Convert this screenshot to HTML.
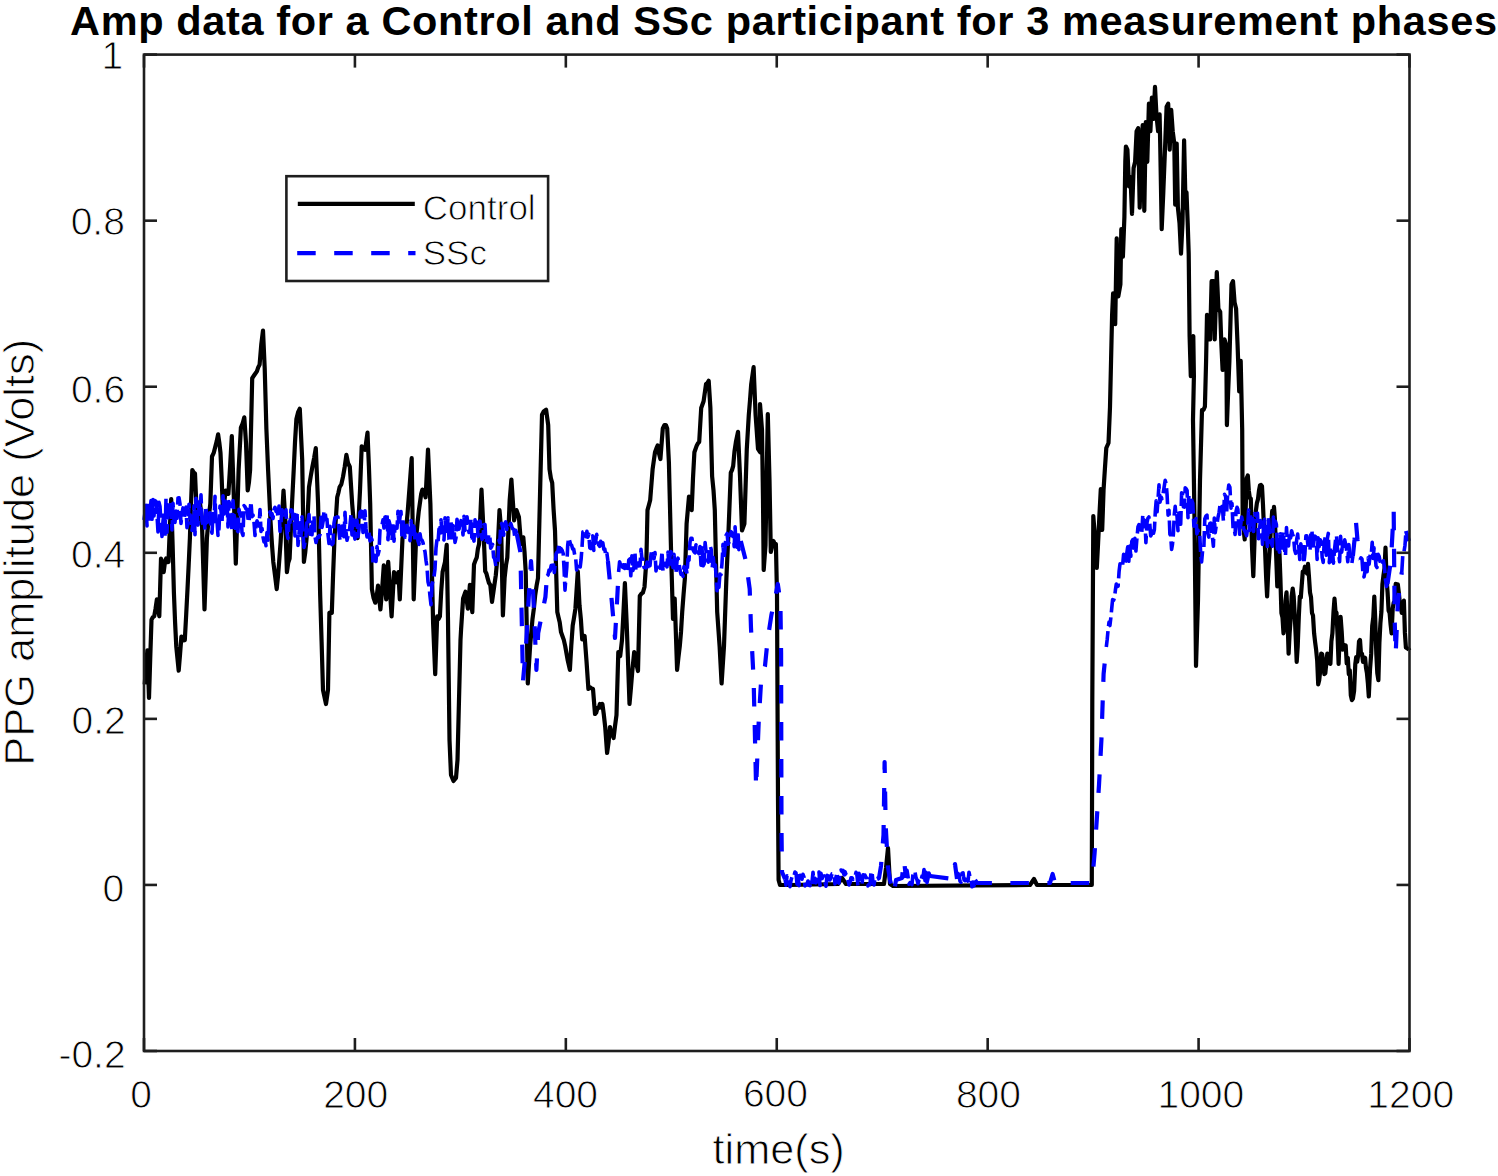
<!DOCTYPE html>
<html><head><meta charset="utf-8"><style>
html,body{margin:0;padding:0;background:#fff;}
svg{display:block;}
text{font-family:"Liberation Sans",sans-serif;fill:#000;}
.thin{stroke:#fff;stroke-width:0.9px;}
</style></head><body>
<svg width="1498" height="1176" viewBox="0 0 1498 1176">
<rect width="1498" height="1176" fill="#fff"/>
<text x="783.85" y="34.75" text-anchor="middle" font-size="41.50" font-weight="bold" letter-spacing="0.620">Amp data for a Control and SSc participant for 3 measurement phases</text>
<g fill="none" stroke="#000" stroke-width="4.2" stroke-linejoin="round">
<path d="M144.7,684.4 L146.1,665.8 L147.4,650.3 L149.0,698.0 L150.2,659.1 L151.5,619.7 L152.8,617.2 L154.2,616.3 L155.6,608.4 L156.9,599.3 L158.1,608.6 L159.3,616.3 L161.0,558.5 L162.3,562.7 L163.7,572.1 L164.9,562.4 L166.1,558.5 L167.3,562.2 L168.5,561.9 L169.8,529.0 L171.2,499.0 L172.6,544.2 L173.9,592.5 L175.1,622.7 L176.3,646.9 L178.7,670.7 L180.1,653.5 L181.4,636.7 L183.1,640.4 L184.8,640.1 L186.2,614.5 L187.5,589.1 L188.7,564.4 L189.9,538.1 L191.1,502.0 L192.3,470.1 L193.7,472.6 L195.0,473.5 L196.2,501.2 L197.4,524.5 L198.8,514.4 L200.1,504.1 L201.8,517.7 L203.2,565.0 L204.5,609.5 L205.7,574.8 L206.9,538.1 L208.6,518.5 L210.3,504.1 L212.0,456.5 L213.7,452.9 L215.4,446.3 L216.8,440.9 L218.1,434.4 L219.3,442.6 L220.5,453.1 L221.7,479.2 L222.9,510.9 L224.2,502.9 L225.6,490.5 L227.0,492.0 L228.4,493.9 L230.1,466.3 L231.8,436.1 L233.5,487.1 L235.8,563.6 L237.2,519.1 L238.6,470.1 L240.9,427.6 L242.6,423.7 L244.3,417.3 L246.0,442.9 L247.7,490.5 L248.9,482.8 L250.1,470.1 L252.2,378.2 L254.5,374.8 L256.9,371.4 L258.2,367.4 L259.6,364.6 L261.3,344.2 L263.0,330.6 L264.7,368.0 L266.4,429.3 L268.1,470.1 L270.5,521.1 L271.9,543.3 L273.3,561.9 L275.0,575.2 L276.7,589.1 L278.0,576.4 L279.4,558.5 L280.6,542.1 L281.8,521.1 L283.5,490.5 L285.2,517.7 L286.9,572.1 L288.2,562.9 L289.6,558.5 L292.0,504.1 L293.7,470.1 L295.0,442.4 L296.4,419.0 L298.1,412.2 L299.8,408.8 L302.2,459.9 L303.9,561.9 L305.2,552.8 L306.6,538.1 L309.0,487.1 L310.7,476.5 L312.4,466.7 L314.1,458.1 L315.8,448.0 L318.1,504.1 L320.2,595.9 L321.6,641.8 L323.0,690.0 L324.5,697.0 L326.0,704.0 L328.0,690.0 L329.4,612.9 L330.6,612.2 L331.8,612.9 L333.1,574.6 L334.5,538.1 L335.9,518.2 L337.2,497.3 L338.4,492.7 L339.6,487.1 L341.3,484.4 L343.0,476.9 L344.7,466.9 L346.4,454.8 L348.1,463.3 L349.8,466.7 L352.2,504.1 L353.5,519.8 L354.9,531.3 L356.2,537.6 L357.6,538.1 L360.0,490.5 L361.7,446.3 L363.4,449.0 L365.1,449.7 L367.5,432.7 L368.9,466.4 L370.2,504.1 L371.9,589.1 L373.6,598.1 L375.3,602.7 L376.6,597.0 L378.0,585.7 L380.4,609.5 L382.1,589.8 L383.8,565.3 L386.2,599.3 L388.2,561.9 L389.9,589.5 L391.6,616.3 L394.0,572.1 L396.4,582.3 L398.4,572.1 L399.8,599.3 L401.1,570.0 L402.5,538.1 L404.2,533.0 L405.9,531.3 L407.6,512.9 L409.3,490.5 L411.7,458.2 L413.7,599.3 L414.9,569.1 L416.1,538.1 L417.5,523.2 L418.8,510.9 L421.2,493.9 L422.4,489.6 L423.6,490.5 L425.6,497.3 L428.0,449.7 L430.4,504.1 L431.8,565.7 L433.1,623.1 L435.2,674.1 L437.2,616.3 L438.5,619.2 L439.9,616.3 L441.2,591.7 L442.6,572.1 L445.0,561.9 L446.7,544.9 L448.0,620.0 L449.5,740.0 L451.0,775.0 L453.5,781.0 L456.0,778.0 L457.5,760.0 L459.0,700.0 L460.5,640.0 L461.1,629.1 L463.1,598.5 L465.5,591.7 L467.9,608.7 L469.9,584.9 L471.1,600.3 L472.3,612.1 L474.0,564.5 L475.4,560.6 L476.7,557.7 L477.9,548.8 L479.1,544.1 L481.5,489.7 L483.5,530.5 L485.2,571.3 L486.4,573.5 L487.6,578.1 L489.0,583.1 L490.3,584.9 L492.0,601.9 L494.4,584.9 L495.8,575.2 L497.1,561.1 L499.5,510.1 L501.2,530.5 L502.9,615.5 L504.6,578.1 L506.0,565.2 L507.3,557.7 L509.7,499.9 L511.4,479.5 L512.8,500.6 L514.1,520.3 L516.5,510.1 L518.9,516.9 L521.0,544.1 L523.3,537.3 L524.5,551.6 L525.7,571.3 L527.8,683.5 L530.1,646.1 L532.5,618.9 L533.9,608.3 L535.2,595.1 L536.6,585.6 L538.0,578.1 L540.3,482.9 L542.0,414.8 L543.7,411.4 L546.1,409.7 L548.2,425.0 L549.5,469.3 L550.9,478.4 L552.2,482.9 L553.6,509.6 L555.0,530.5 L557.3,612.1 L558.5,617.2 L559.7,622.3 L561.0,632.1 L562.4,635.9 L563.8,639.9 L565.2,646.1 L567.6,659.7 L569.9,669.9 L571.3,645.3 L572.7,625.7 L574.0,617.8 L575.4,608.7 L577.8,571.3 L579.5,605.3 L580.9,619.5 L582.2,639.3 L584.6,635.9 L586.5,661.0 L588.4,689.0 L589.9,687.2 L591.5,688.4 L593.0,689.0 L595.0,714.0 L596.2,712.7 L597.5,707.9 L598.7,708.0 L599.9,703.9 L601.2,707.5 L602.4,704.0 L603.8,714.4 L605.2,727.0 L607.1,753.0 L608.5,742.8 L610.0,727.0 L611.2,733.0 L612.4,733.6 L613.6,738.0 L615.0,726.3 L616.5,715.0 L618.3,652.0 L620.2,656.0 L622.0,640.0 L623.5,611.6 L624.9,583.0 L626.7,624.0 L627.7,652.0 L629.5,704.0 L630.9,688.4 L632.3,671.0 L634.2,652.0 L635.5,658.9 L636.7,665.0 L638.0,671.0 L639.8,596.0 L641.4,593.7 L642.9,592.6 L644.5,587.0 L646.4,560.0 L647.5,510.1 L648.9,505.0 L650.2,499.9 L652.6,469.3 L655.0,452.2 L656.4,448.4 L657.7,445.4 L659.0,453.5 L660.4,459.0 L662.8,428.4 L664.5,425.0 L665.9,425.1 L667.2,428.4 L668.9,462.4 L671.3,561.1 L673.0,618.9 L674.7,598.5 L677.1,669.9 L678.5,656.8 L679.8,646.1 L681.0,632.0 L682.2,612.1 L683.5,595.2 L684.9,578.1 L686.6,523.7 L689.0,496.5 L690.4,503.6 L691.7,510.1 L693.0,478.2 L694.4,452.2 L696.8,445.4 L698.0,443.2 L699.2,442.0 L701.2,408.0 L703.6,401.2 L706.0,384.2 L707.4,383.0 L708.7,380.8 L710.4,408.0 L712.1,476.1 L713.5,490.2 L714.8,510.1 L716.0,561.8 L717.2,612.1 L719.6,646.1 L721.6,683.5 L724.0,646.1 L726.4,578.1 L728.4,533.9 L730.8,472.7 L732.0,470.1 L733.2,465.9 L734.5,451.3 L735.9,442.0 L738.0,431.8 L740.0,476.1 L742.0,530.5 L744.4,523.7 L746.8,448.8 L748.8,414.8 L750.0,400.3 L751.2,384.2 L753.6,367.2 L755.6,414.8 L758.0,448.8 L760.1,452.2 L760.0,404.0 L762.0,430.0 L763.0,500.0 L763.7,570.0 L765.5,545.0 L767.8,414.0 L769.5,480.0 L770.8,552.0 L772.1,546.3 L773.4,541.0 L774.6,543.6 L775.9,544.0 L777.0,595.0 L777.5,700.0 L778.0,800.0 L778.6,880.0 L780.0,885.0 L790.0,885.0 L838.0,884.0 L842.0,878.0 L846.0,884.0 L884.0,884.0 L886.0,868.0 L888.0,848.0 L890.0,884.0 L893.0,886.0 L1030.0,885.0 L1034.0,879.0 L1037.0,885.0 L1091.8,885.0 L1092.3,700.0 L1093.3,516.0 L1095.4,543.0 L1096.8,568.0 L1098.1,543.0 L1099.4,515.7 L1100.8,489.0 L1102.2,530.0 L1103.6,489.0 L1104.9,468.9 L1106.3,448.0 L1108.5,443.0 L1110.0,407.0 L1112.1,314.9 L1113.1,293.4 L1115.2,324.1 L1116.7,238.4 L1118.3,296.5 L1120.4,284.3 L1121.3,229.2 L1122.9,256.7 L1124.4,216.9 L1125.3,161.8 L1125.9,146.5 L1127.4,149.6 L1129.0,186.3 L1130.5,177.1 L1132.0,213.9 L1133.6,167.9 L1135.1,161.8 L1136.6,131.2 L1138.2,128.2 L1139.7,207.7 L1141.2,155.7 L1142.7,125.1 L1144.3,210.8 L1145.8,122.0 L1147.3,161.8 L1148.9,103.7 L1150.4,131.2 L1151.9,97.5 L1153.5,119.0 L1155.0,86.8 L1156.5,115.9 L1158.1,131.2 L1159.6,114.4 L1160.2,143.5 L1161.7,229.2 L1163.3,192.4 L1165.1,146.5 L1166.6,106.7 L1168.2,103.7 L1169.7,149.6 L1171.2,109.8 L1172.7,131.2 L1174.3,143.5 L1175.2,204.7 L1176.7,143.5 L1177.9,207.7 L1179.5,223.0 L1181.0,253.7 L1182.5,223.0 L1184.1,140.4 L1185.6,207.7 L1186.5,192.4 L1187.7,223.0 L1188.7,253.7 L1189.6,336.3 L1190.8,376.1 L1192.0,339.4 L1193.3,336.3 L1193.9,376.1 L1193.0,420.0 L1194.5,520.0 L1196.0,666.0 L1198.0,600.0 L1200.0,480.0 L1202.0,410.0 L1203.5,409.8 L1204.9,406.7 L1206.1,360.8 L1207.0,314.9 L1208.6,317.9 L1210.1,339.4 L1211.6,281.2 L1213.8,281.2 L1214.7,339.4 L1216.8,272.0 L1218.4,308.8 L1220.2,311.8 L1221.4,345.5 L1222.6,370.0 L1224.5,339.4 L1226.3,345.5 L1226.9,425.1 L1228.2,390.1 L1229.4,360.8 L1231.5,284.3 L1233.0,281.2 L1234.6,302.6 L1236.1,308.8 L1237.6,345.5 L1239.2,391.4 L1240.7,360.8 L1242.2,430.0 L1242.7,521.0 L1244.7,539.4 L1246.7,478.2 L1247.8,475.5 L1248.8,490.4 L1249.8,498.0 L1250.8,498.6 L1252.0,546.6 L1253.3,576.1 L1254.6,538.5 L1255.9,510.8 L1256.9,503.1 L1258.0,499.1 L1259.0,490.4 L1260.0,485.4 L1261.0,484.9 L1262.0,486.3 L1263.0,505.0 L1264.1,531.2 L1265.1,550.3 L1266.1,576.6 L1267.1,596.5 L1268.3,570.1 L1269.6,551.6 L1270.9,528.7 L1272.2,510.8 L1273.1,519.0 L1274.0,506.8 L1274.9,519.0 L1276.1,554.0 L1277.3,586.3 L1278.3,573.7 L1279.4,551.6 L1280.4,578.5 L1281.4,612.9 L1282.5,617.6 L1283.5,633.3 L1284.5,625.7 L1285.5,600.8 L1286.5,592.4 L1287.5,616.8 L1288.6,653.7 L1289.6,633.3 L1290.6,619.5 L1291.6,596.5 L1292.7,588.5 L1293.7,596.5 L1294.7,614.7 L1295.7,636.7 L1296.7,661.8 L1297.7,646.7 L1298.8,617.0 L1299.8,596.5 L1300.8,597.5 L1301.8,584.3 L1302.8,571.5 L1303.9,572.0 L1304.9,566.7 L1306.0,571.0 L1307.0,573.6 L1308.0,563.9 L1309.0,577.2 L1310.0,592.4 L1311.0,597.2 L1312.0,612.9 L1313.0,615.5 L1314.1,633.3 L1315.1,642.0 L1316.1,649.6 L1317.2,660.8 L1318.2,684.3 L1319.2,680.2 L1320.2,670.7 L1321.2,653.7 L1322.2,654.2 L1323.3,662.9 L1324.3,674.1 L1325.3,673.4 L1326.3,663.3 L1327.3,653.7 L1328.3,663.2 L1329.4,657.4 L1330.4,663.9 L1331.4,641.2 L1332.4,633.3 L1333.5,611.8 L1334.5,598.6 L1335.5,611.6 L1336.5,612.9 L1337.5,633.8 L1338.6,663.9 L1339.6,637.3 L1340.6,616.9 L1341.7,631.6 L1342.7,649.6 L1343.7,646.6 L1344.7,645.1 L1345.7,645.5 L1346.7,663.4 L1347.8,657.7 L1348.8,674.1 L1349.8,670.3 L1350.8,695.2 L1351.9,700.1 L1352.9,698.6 L1354.1,691.0 L1355.3,663.9 L1356.2,657.0 L1357.2,661.7 L1358.1,655.6 L1359.0,641.4 L1360.0,639.9 L1361.0,654.5 L1362.0,653.7 L1363.0,661.8 L1364.1,659.7 L1365.1,657.8 L1366.0,667.9 L1366.9,672.9 L1367.9,683.6 L1368.8,696.5 L1370.0,669.6 L1371.2,653.7 L1372.2,626.0 L1373.3,617.3 L1374.3,596.5 L1375.3,620.8 L1376.3,653.7 L1377.3,673.2 L1378.4,680.2 L1379.4,642.6 L1380.4,623.1 L1381.4,611.8 L1382.4,584.3 L1383.4,575.9 L1384.5,568.3 L1385.5,547.6 L1386.5,577.9 L1387.6,592.4 L1388.6,610.6 L1389.6,612.9 L1390.6,624.6 L1391.6,633.3 L1392.7,608.3 L1393.7,602.7 L1394.7,601.5 L1395.7,583.9 L1396.7,584.3 L1397.8,584.3 L1398.8,592.4 L1399.8,602.5 L1400.8,606.6 L1401.8,612.9 L1402.8,605.0 L1403.9,600.6 L1404.9,632.9 L1405.9,647.6 L1409.0,649.6 L1409.0,650.0"/>
</g>
<g fill="none" stroke="#0000ff" stroke-width="4.2" stroke-dasharray="18.5,18.5" stroke-linejoin="round">
<path d="M516.8,534.0 L520.4,552.0 L521.3,597.0 L522.0,633.0 L523.0,681.0 L525.7,651.0 L529.3,588.0 L531.0,561.0 L532.9,588.0 L534.6,624.0 L536.4,670.0 L538.2,633.0 L541.8,615.0 L545.4,597.0 L547.0,576.0"/><path d="M607.9,561.0 L611.4,597.0 L615.0,638.0 L616.8,606.0 L618.6,572.0"/><path d="M740.8,541.0 L745.9,561.0 L749.7,589.0 L751.0,628.0 L753.6,679.0 L754.8,730.0 L756.1,788.0 L757.4,755.0 L758.7,722.0 L761.2,679.0 L765.0,666.0 L767.6,640.0 L771.4,615.0 L775.3,597.0 L777.8,584.0 L780.4,602.0 L781.1,653.0 L781.3,750.0 L781.5,830.0 L782.0,872.0 L785.0,879.0"/><path d="M877.0,879.0 L879.0,878.0 L881.0,866.0 L883.5,835.0 L884.6,762.0 L885.7,826.0 L888.0,867.0 L890.0,880.0 L893.7,894.0 L896.0,880.0 L902.0,878.0 L904.0,860.0 L906.0,878.0"/><path d="M930.0,876.0 L953.0,879.0 L955.0,864.0 L957.0,879.0"/><path d="M975.0,880.0 L977.0,883.0 L1050.0,883.0 L1052.6,874.0 L1055.0,883.0 L1091.0,883.0 L1092.3,880.0 L1094.6,853.0 L1096.8,819.0 L1099.0,785.0 L1101.4,740.0 L1103.6,674.0 L1106.3,647.0"/><path d="M1352.9,556.0 L1354.5,540.0 L1355.9,521.0 L1357.5,540.0 L1360.0,560.0"/><path d="M1387.5,584.0 L1391.0,560.0 L1393.7,511.0 L1394.7,621.0 L1395.7,654.0 L1397.8,603.0 L1401.8,572.0"/><path d="M1406.0,531.0 L1409.0,541.0"/>
</g>
<g fill="none" stroke="#0000ff" stroke-width="3.6" stroke-linejoin="round" stroke-dasharray="16,5">
<path d="M144.0,520.0 L145.0,512.5 L146.0,505.2 L147.0,525.9 L148.0,501.6 L149.0,520.9 L150.0,513.6 L151.0,500.6 L152.0,519.3 L153.0,499.5 L154.0,516.0 L155.0,500.6 L156.0,501.4 L157.0,515.2 L158.0,531.9 L159.0,502.4 L160.0,506.4 L161.0,523.2 L162.0,536.5 L163.0,520.9 L164.0,513.3 L165.0,537.4 L166.0,498.4 L167.0,532.3 L168.0,508.4 L169.0,502.2 L170.0,501.0 L171.0,508.9 L172.0,530.0 L173.0,503.4 L174.0,520.0 L175.0,522.3 L176.0,511.1 L177.0,518.3 L178.0,497.9 L179.0,497.7 L180.0,503.7 L181.0,523.4 L182.0,512.8 L183.0,507.9 L184.0,519.2 L185.0,513.5 L186.0,507.0 L187.0,527.6 L188.0,523.5 L189.0,504.4 L190.0,518.1 L191.0,516.0 L192.0,530.5 L193.0,524.3 L194.0,505.7 L195.0,534.6 L196.0,498.4 L197.0,510.9 L198.0,524.9 L199.0,499.6 L200.0,513.5 L201.0,494.8 L202.0,521.1 L203.0,525.2 L204.0,517.3 L205.0,529.9 L206.0,506.5 L207.0,522.5 L208.0,518.3 L209.0,517.8 L210.0,512.7 L211.0,528.8 L212.0,533.2 L213.0,513.6 L214.0,521.6 L215.0,496.4 L216.0,523.2 L217.0,521.0 L218.0,535.5 L219.0,528.4 L220.0,506.0 L221.0,510.4 L222.0,522.3 L223.0,495.8 L224.0,514.0 L225.0,502.2 L226.0,500.3 L227.0,498.2 L228.0,527.0 L229.0,501.5 L230.0,506.4 L231.0,512.3 L232.0,531.5 L233.0,500.5 L234.0,515.1 L235.0,519.2 L236.0,532.3 L237.0,529.9 L238.0,531.7 L239.0,509.4 L240.0,514.8 L241.0,512.8 L242.0,532.7 L243.0,535.4 L244.0,505.6 L245.0,506.7 L246.0,508.9 L247.0,509.2 L248.0,518.5 L249.0,522.3 L250.0,510.8 L251.0,501.8 L252.0,516.7 L253.0,515.1 L254.0,522.1 L255.0,535.5 L256.0,526.5 L257.0,520.8 L258.0,524.2 L259.0,526.0 L260.0,509.5 L261.0,531.5 L262.0,528.4 L263.0,537.0 L264.0,541.8 L265.0,539.0 L266.0,545.7 L267.0,532.5 L268.0,540.1 L269.0,518.3 L270.0,511.8 L271.0,515.6 L272.0,513.7 L273.0,518.6 L274.0,509.4 L275.0,507.3 L276.0,511.4 L277.0,509.4 L278.0,516.9 L279.0,506.1 L280.0,531.4 L281.0,523.8 L282.0,509.8 L283.0,513.2 L284.0,516.5 L285.0,517.3 L286.0,509.9 L287.0,533.4 L288.0,538.4 L289.0,521.7 L290.0,522.6 L291.0,509.8 L292.0,510.5 L293.0,518.8 L294.0,516.4 L295.0,535.9 L296.0,513.4 L297.0,511.2 L298.0,545.4 L299.0,533.5 L300.0,522.9 L301.0,535.5 L302.0,516.8 L303.0,533.0 L304.0,547.4 L305.0,542.4 L306.0,535.7 L307.0,519.8 L308.0,522.4 L309.0,514.6 L310.0,534.3 L311.0,526.3 L312.0,534.8 L313.0,519.6 L314.0,516.1 L315.0,536.4 L316.0,542.5 L317.0,538.1 L318.0,536.7 L319.0,537.2 L320.0,534.7 L321.0,517.3 L322.0,527.4 L323.0,522.0 L324.0,511.0 L325.0,511.1 L326.0,519.9 L327.0,519.3 L328.0,534.3 L329.0,543.5 L330.0,526.2 L331.0,542.8 L332.0,544.5 L333.0,543.3 L334.0,523.0 L335.0,517.9 L336.0,518.1 L337.0,516.9 L338.0,517.1 L339.0,531.3 L340.0,540.7 L341.0,538.5 L342.0,526.1 L343.0,531.9 L344.0,536.8 L345.0,512.3 L346.0,531.9 L347.0,540.3 L348.0,535.9 L349.0,534.7 L350.0,525.2 L351.0,514.8 L352.0,534.9 L353.0,519.4 L354.0,534.2 L355.0,539.1 L356.0,520.5 L357.0,520.3 L358.0,536.6 L359.0,529.4 L360.0,512.5 L361.0,511.1 L362.0,511.6 L363.0,532.5 L364.0,529.2 L365.0,510.8 L366.0,528.7 L367.0,536.9 L368.0,533.6 L369.0,531.9 L370.0,540.9 L371.0,537.5 L372.0,539.8 L373.0,562.4 L374.0,560.8 L375.0,555.3 L376.0,561.4 L377.0,546.6 L378.0,554.9 L379.0,550.8 L380.0,529.9 L381.0,527.5 L382.0,525.1 L383.0,519.8 L384.0,528.0 L385.0,517.0 L386.0,522.6 L387.0,512.9 L388.0,539.8 L389.0,520.9 L390.0,524.7 L391.0,529.2 L392.0,540.3 L393.0,524.0 L394.0,541.2 L395.0,527.1 L396.0,528.3 L397.0,528.2 L398.0,511.2 L399.0,525.8 L400.0,517.2 L401.0,511.6 L402.0,538.8 L403.0,518.4 L404.0,528.7 L405.0,537.3 L406.0,532.2 L407.0,525.3 L408.0,531.8 L409.0,533.3 L410.0,540.6 L411.0,520.6 L412.0,534.3 L413.0,525.8 L414.0,527.1 L415.0,540.7 L416.0,534.0 L417.0,535.6 L418.0,540.7 L419.0,544.4 L420.0,533.7 L421.0,539.9 L422.0,540.1 L423.0,542.7 L424.0,547.9 L425.0,551.8 L426.0,560.5 L427.0,567.2 L428.0,581.7 L429.0,585.7 L430.0,596.1 L431.0,604.7 L432.0,585.0 L433.0,580.2 L434.0,576.7 L435.0,568.7 L436.0,548.0 L437.0,539.4 L438.0,542.6 L439.0,529.0 L440.0,528.9 L441.0,519.7 L442.0,533.2 L443.0,536.6 L444.0,540.0 L445.0,517.8 L446.0,534.6 L447.0,533.0 L448.0,517.8 L449.0,539.5 L450.0,541.9 L451.0,520.4 L452.0,541.4 L453.0,525.6 L454.0,528.2 L455.0,542.4 L456.0,537.9 L457.0,519.3 L458.0,526.9 L459.0,529.2 L460.0,524.5 L461.0,520.7 L462.0,524.1 L463.0,534.9 L464.0,516.4 L465.0,530.5 L466.0,527.6 L467.0,516.7 L468.0,524.9 L469.0,532.4 L470.0,529.6 L471.0,518.4 L472.0,541.5 L473.0,536.6 L474.0,541.1 L475.0,519.9 L476.0,523.9 L477.0,518.6 L478.0,536.4 L479.0,524.3 L480.0,521.1 L481.0,528.0 L482.0,539.4 L483.0,537.3 L484.0,524.5 L485.0,524.6 L485.9,543.0 L486.9,538.0 L487.8,542.5 L488.8,534.0 L489.8,536.1 L490.7,548.2 L491.7,546.6 L492.6,544.4 L493.6,557.0 L494.7,558.9 L495.9,566.1 L497.0,563.3 L497.9,562.2 L498.9,540.4 L499.8,542.7 L500.7,525.1 L501.7,523.5 L502.7,528.0 L503.7,535.3 L504.7,523.8 L505.7,521.9 L506.7,529.5 L507.7,525.0 L508.8,523.3 L509.8,524.8 L510.8,523.5 L511.8,526.6 L512.8,529.0 L513.8,529.4 L514.8,537.1 L515.8,530.3 L516.8,534.0"/><path d="M547.0,576.0 L548.0,575.0 L549.1,570.0 L550.1,571.0 L551.2,565.5 L552.2,567.5 L553.3,562.9 L554.3,572.5 L555.2,564.2 L556.1,553.9 L557.0,552.2 L557.9,552.0 L559.0,543.6 L560.0,551.8 L561.1,548.8 L562.1,550.2 L563.2,553.5 L564.1,569.7 L565.0,590.1 L565.9,577.5 L566.8,567.0 L567.7,545.2 L568.6,538.1 L569.6,540.7 L570.6,544.2 L571.6,545.3 L572.7,549.0 L573.7,549.1 L574.7,554.8 L575.7,558.5 L576.6,569.9 L577.5,563.8 L578.4,563.6 L579.3,563.7 L580.2,567.0 L581.1,559.3 L582.0,547.6 L582.9,531.9 L583.9,531.5 L584.9,533.0 L585.9,536.6 L586.9,531.3 L587.8,537.2 L588.8,534.2 L589.8,547.9 L590.8,548.5 L591.8,540.9 L592.8,535.9 L593.8,550.4 L594.8,538.7 L595.8,540.4 L596.7,534.4 L597.7,542.4 L598.7,545.0 L599.7,546.3 L600.7,541.3 L601.7,549.1 L602.8,542.7 L603.8,549.3 L604.8,549.0 L605.8,555.6 L606.9,553.3 L607.9,561.0"/><path d="M618.6,572.0 L619.6,561.7 L620.6,565.1 L621.6,561.8 L622.7,567.5 L623.7,564.8 L624.7,568.5 L625.7,564.9 L626.7,566.9 L627.8,571.5 L628.8,560.0 L629.8,559.0 L630.8,575.8 L631.9,555.8 L632.9,570.5 L633.9,567.5 L634.9,551.7 L635.9,570.3 L637.0,570.7 L638.0,563.1 L639.0,564.8 L640.0,565.7 L641.0,549.4 L642.0,559.2 L643.0,559.0 L644.0,567.4 L645.0,567.0 L646.0,567.8 L647.0,562.1 L648.0,570.0 L649.0,565.1 L650.0,565.6 L651.0,554.5 L652.0,549.8 L653.0,552.7 L654.0,558.6 L655.0,552.5 L656.0,570.9 L657.0,564.3 L658.0,566.3 L659.0,566.5 L660.0,568.2 L661.0,563.7 L662.0,551.6 L663.0,571.0 L664.0,569.6 L665.0,563.4 L666.0,564.0 L667.0,566.9 L668.0,552.0 L669.0,568.4 L670.0,556.3 L671.0,551.7 L672.0,556.3 L673.0,567.5 L674.0,554.4 L675.0,567.5 L676.0,573.1 L677.0,561.0 L678.0,558.1 L679.0,562.9 L680.0,570.2 L681.0,574.4 L682.0,573.3 L683.0,576.3 L684.0,566.5 L685.0,570.6 L686.0,567.9 L687.0,573.6 L688.0,559.0 L689.0,560.1 L690.0,542.2 L691.0,538.2 L692.0,538.3 L693.0,549.7 L694.0,551.7 L695.0,552.8 L696.0,544.8 L697.0,551.9 L698.0,552.1 L699.0,553.7 L700.0,546.6 L701.0,565.1 L702.0,547.8 L703.1,565.8 L704.1,564.1 L705.1,542.5 L706.1,552.1 L707.1,559.6 L708.2,562.1 L709.2,550.4 L710.2,546.2 L711.2,549.2 L712.2,567.6 L713.3,557.6 L714.3,568.5 L715.3,564.9 L716.2,577.4 L717.0,590.7 L717.9,582.7 L718.9,587.4 L719.9,574.0 L721.0,574.6 L722.0,563.3 L723.0,544.4 L724.0,559.5 L725.0,548.1 L726.1,535.4 L727.1,533.5 L728.1,544.3 L729.1,542.0 L730.1,537.0 L731.2,531.7 L732.2,535.4 L733.2,533.5 L734.2,546.6 L735.1,526.9 L736.0,545.0 L737.0,547.2 L738.0,531.4 L738.9,549.6 L739.8,545.2 L740.8,541.0"/><path d="M785.0,879.0 L786.0,885.1 L787.0,875.8 L788.0,877.1 L789.0,877.4 L790.0,886.6 L791.0,880.4 L792.0,876.9 L793.0,877.9 L794.0,875.6 L795.0,872.1 L796.0,872.9 L797.0,884.1 L798.0,875.7 L799.0,885.6 L800.0,875.2 L801.0,875.4 L802.0,879.2 L803.0,874.3 L804.0,877.1 L805.0,885.9 L806.0,884.8 L807.0,883.7 L808.0,881.0 L809.0,885.3 L810.0,885.7 L811.0,879.7 L812.0,882.3 L813.0,872.2 L814.0,882.5 L815.0,878.3 L816.0,882.8 L817.0,881.2 L818.0,875.8 L819.0,872.1 L820.0,885.5 L821.0,873.3 L822.0,878.6 L823.0,876.6 L824.0,875.9 L825.0,882.6 L826.0,886.2 L827.0,875.4 L828.0,881.4 L829.0,876.0 L830.0,879.9 L831.0,877.4 L832.0,873.9 L833.0,873.9 L834.0,874.0 L835.0,884.0 L836.0,877.2 L837.0,872.5 L838.0,882.3 L839.0,883.1 L840.0,874.2 L841.0,870.1 L842.0,871.5 L843.0,870.5 L844.0,874.9 L845.0,871.6 L846.0,874.5 L847.0,875.3 L848.0,880.1 L849.0,884.9 L850.0,882.8 L851.0,877.7 L852.0,877.7 L853.0,879.4 L854.0,877.1 L855.0,876.5 L856.0,872.3 L857.0,875.6 L858.0,886.1 L859.0,873.3 L860.0,879.1 L861.0,881.0 L862.0,884.5 L863.0,874.7 L864.0,875.5 L865.0,875.2 L866.0,877.5 L867.0,878.2 L868.0,885.9 L869.0,884.3 L870.0,884.7 L871.0,871.7 L872.0,871.9 L873.0,882.2 L874.0,885.0 L875.0,878.6 L876.0,880.3 L877.0,879.0"/><path d="M906.0,878.0 L907.0,870.3 L908.0,876.2 L909.0,884.2 L910.0,882.6 L911.0,883.0 L912.0,884.7 L913.0,873.6 L914.0,871.4 L915.0,872.0 L916.0,877.5 L917.0,879.9 L918.0,883.7 L919.0,880.3 L920.0,879.1 L921.0,880.8 L922.0,876.0 L923.0,877.4 L924.0,869.5 L925.0,880.7 L926.0,872.3 L927.0,882.6 L928.0,878.4 L929.0,873.1 L930.0,876.0"/><path d="M957.0,879.0 L958.0,873.4 L959.0,875.3 L960.0,881.2 L961.0,882.2 L962.0,873.4 L963.0,872.8 L964.0,879.8 L965.0,880.7 L966.0,877.8 L967.0,875.4 L968.0,881.1 L969.0,872.2 L970.0,876.7 L971.0,879.2 L972.0,886.8 L973.0,882.1 L974.0,885.8 L975.0,880.0"/><path d="M1106.3,647.0 L1107.2,639.4 L1108.1,629.6 L1109.0,622.1 L1109.9,625.6 L1110.8,618.0 L1111.7,608.8 L1112.6,599.6 L1113.6,600.3 L1114.5,597.7 L1115.4,590.1 L1116.3,584.0 L1117.2,586.5 L1118.1,586.1 L1119.1,571.2 L1120.0,563.9 L1120.9,565.3 L1121.7,563.6 L1122.6,565.5 L1123.6,554.3 L1124.7,563.6 L1125.7,560.5 L1126.7,554.1 L1127.7,546.9 L1128.8,561.3 L1129.8,546.1 L1130.8,556.3 L1131.8,541.4 L1132.8,539.6 L1133.9,550.4 L1134.9,538.3 L1135.9,551.0 L1137.0,537.4 L1138.0,526.7 L1139.0,524.6 L1139.9,526.5 L1140.8,529.7 L1141.7,533.9 L1142.8,514.6 L1143.8,523.2 L1144.9,520.4 L1145.9,542.6 L1147.0,522.5 L1147.9,518.4 L1148.9,517.0 L1149.8,524.2 L1150.7,535.9 L1151.7,533.9 L1152.6,528.2 L1153.5,533.2 L1154.4,529.5 L1155.3,511.5 L1156.2,500.7 L1157.1,511.8 L1158.0,499.6 L1159.0,484.9 L1160.0,502.1 L1161.0,496.9 L1162.0,498.6 L1163.0,494.4 L1164.1,487.3 L1165.2,480.4 L1166.2,484.0 L1167.1,495.0 L1168.1,515.1 L1169.0,510.3 L1169.9,534.1 L1170.7,535.6 L1171.6,549.4 L1172.5,544.2 L1173.4,533.8 L1174.3,514.5 L1175.2,506.4 L1176.1,517.4 L1177.0,515.9 L1178.0,530.6 L1178.9,513.0 L1179.8,518.4 L1180.7,524.2 L1181.6,492.8 L1182.5,494.6 L1183.4,506.8 L1184.3,507.1 L1185.2,487.9 L1186.2,488.8 L1187.1,490.6 L1188.0,517.8 L1188.9,495.9 L1189.8,509.2 L1190.7,512.1 L1191.8,500.2 L1192.8,503.4 L1193.9,526.2 L1194.9,522.0 L1196.0,518.6 L1196.9,533.8 L1197.9,530.0 L1198.8,534.3 L1199.7,533.9 L1200.7,554.0 L1201.6,561.9 L1202.7,549.3 L1203.8,549.2 L1204.8,518.9 L1205.9,516.1 L1207.0,515.2 L1207.9,533.6 L1208.8,537.1 L1209.8,523.6 L1210.7,523.1 L1211.6,532.2 L1212.5,537.8 L1213.4,546.3 L1214.3,518.0 L1215.2,532.8 L1216.2,525.9 L1217.1,523.8 L1218.0,517.3 L1219.1,512.3 L1220.2,503.3 L1221.2,503.6 L1222.3,505.7 L1223.4,520.7 L1224.5,494.4 L1225.6,496.2 L1226.6,513.0 L1227.7,493.6 L1228.8,485.1 L1229.9,487.3 L1231.0,508.2 L1232.0,503.6 L1233.1,529.2 L1234.2,529.1 L1235.1,534.5 L1236.0,511.6 L1237.0,507.3 L1237.9,509.5 L1238.8,525.1 L1239.7,534.2 L1240.7,524.7 L1241.7,517.0 L1242.7,522.8 L1243.7,529.3 L1244.7,530.7 L1245.6,532.8 L1246.6,535.7 L1247.6,529.0 L1248.6,510.0 L1249.6,534.1 L1250.6,514.9 L1251.6,524.7 L1252.6,518.6 L1253.6,531.5 L1254.6,513.5 L1255.6,515.6 L1256.5,516.0 L1257.5,513.3 L1258.5,538.8 L1259.5,528.8 L1260.5,520.6 L1261.5,523.4 L1262.5,544.3 L1263.5,528.2 L1264.5,519.2 L1265.5,539.4 L1266.5,534.5 L1267.4,546.5 L1268.4,516.6 L1269.4,529.8 L1270.4,542.0 L1271.4,543.2 L1272.4,546.2 L1273.4,517.1 L1274.4,526.5 L1275.4,521.3 L1276.4,524.5 L1277.4,552.1 L1278.4,539.5 L1279.4,552.2 L1280.4,533.9 L1281.4,551.5 L1282.4,537.7 L1283.4,531.6 L1284.5,549.7 L1285.5,555.8 L1286.5,527.5 L1287.5,544.7 L1288.5,545.9 L1289.6,532.5 L1290.6,538.1 L1291.6,530.7 L1292.6,534.2 L1293.6,537.2 L1294.7,550.3 L1295.7,553.4 L1296.7,539.4 L1297.7,534.1 L1298.7,546.2 L1299.8,559.5 L1300.8,543.9 L1301.8,549.6 L1302.8,544.6 L1303.8,563.5 L1304.9,553.7 L1305.9,535.9 L1306.9,535.9 L1307.9,544.6 L1308.9,548.6 L1310.0,550.4 L1311.0,530.3 L1312.0,531.5 L1313.0,549.9 L1314.0,540.3 L1315.1,536.2 L1316.1,537.2 L1317.1,559.5 L1318.1,537.8 L1319.1,546.7 L1320.2,539.7 L1321.2,541.9 L1322.2,557.5 L1323.2,562.5 L1324.2,541.8 L1325.3,537.1 L1326.3,555.3 L1327.3,538.9 L1328.3,533.4 L1329.3,562.6 L1330.4,548.2 L1331.4,561.2 L1332.4,549.1 L1333.4,563.2 L1334.5,550.0 L1335.5,540.5 L1336.5,535.7 L1337.6,551.6 L1338.6,553.9 L1339.6,561.7 L1340.6,536.3 L1341.7,552.1 L1342.7,544.1 L1343.7,548.9 L1344.7,539.9 L1345.8,544.8 L1346.8,551.7 L1347.8,561.7 L1348.8,544.5 L1349.8,553.4 L1350.9,560.0 L1351.9,563.0 L1352.9,556.0"/><path d="M1360.0,560.0 L1361.0,557.8 L1362.0,559.1 L1363.0,573.9 L1364.0,576.8 L1365.0,571.7 L1366.0,560.6 L1367.1,571.6 L1368.1,557.9 L1369.1,564.2 L1370.2,554.6 L1371.2,555.4 L1372.2,542.3 L1373.1,558.5 L1374.1,547.7 L1375.1,553.8 L1376.0,565.9 L1377.0,567.5 L1378.1,554.3 L1379.2,556.6 L1380.2,561.9 L1381.3,565.7 L1382.4,564.4 L1383.5,560.8 L1384.5,567.4 L1385.5,579.8 L1386.5,586.4 L1387.5,584.0"/><path d="M1401.8,572.0 L1402.8,554.8 L1403.9,552.4 L1405.0,545.2 L1406.0,531.0"/>
</g>
<g stroke="#1e1e1e" stroke-width="2.6" fill="none">
<rect x="144.0" y="54.6" width="1265.5" height="996.4"/>
<line x1="144.00" y1="1051.0" x2="144.00" y2="1038.0"/><line x1="144.00" y1="54.6" x2="144.00" y2="67.6"/><line x1="354.92" y1="1051.0" x2="354.92" y2="1038.0"/><line x1="354.92" y1="54.6" x2="354.92" y2="67.6"/><line x1="565.83" y1="1051.0" x2="565.83" y2="1038.0"/><line x1="565.83" y1="54.6" x2="565.83" y2="67.6"/><line x1="776.75" y1="1051.0" x2="776.75" y2="1038.0"/><line x1="776.75" y1="54.6" x2="776.75" y2="67.6"/><line x1="987.67" y1="1051.0" x2="987.67" y2="1038.0"/><line x1="987.67" y1="54.6" x2="987.67" y2="67.6"/><line x1="1198.58" y1="1051.0" x2="1198.58" y2="1038.0"/><line x1="1198.58" y1="54.6" x2="1198.58" y2="67.6"/><line x1="1409.50" y1="1051.0" x2="1409.50" y2="1038.0"/><line x1="1409.50" y1="54.6" x2="1409.50" y2="67.6"/><line x1="144.0" y1="1051.00" x2="157.0" y2="1051.00"/><line x1="1409.5" y1="1051.00" x2="1396.5" y2="1051.00"/><line x1="144.0" y1="884.93" x2="157.0" y2="884.93"/><line x1="1409.5" y1="884.93" x2="1396.5" y2="884.93"/><line x1="144.0" y1="718.87" x2="157.0" y2="718.87"/><line x1="1409.5" y1="718.87" x2="1396.5" y2="718.87"/><line x1="144.0" y1="552.80" x2="157.0" y2="552.80"/><line x1="1409.5" y1="552.80" x2="1396.5" y2="552.80"/><line x1="144.0" y1="386.73" x2="157.0" y2="386.73"/><line x1="1409.5" y1="386.73" x2="1396.5" y2="386.73"/><line x1="144.0" y1="220.67" x2="157.0" y2="220.67"/><line x1="1409.5" y1="220.67" x2="1396.5" y2="220.67"/><line x1="144.0" y1="54.60" x2="157.0" y2="54.60"/><line x1="1409.5" y1="54.60" x2="1396.5" y2="54.60"/>
</g>
<text class="thin" x="141.20" y="1107.60" text-anchor="middle" font-size="39.00">0</text><text class="thin" x="355.67" y="1107.50" text-anchor="middle" font-size="39.00">200</text><text class="thin" x="565.53" y="1107.50" text-anchor="middle" font-size="39.00">400</text><text class="thin" x="775.45" y="1107.45" text-anchor="middle" font-size="39.00">600</text><text class="thin" x="988.42" y="1107.50" text-anchor="middle" font-size="39.00">800</text><text class="thin" x="1200.88" y="1107.50" text-anchor="middle" font-size="39.00">1000</text><text class="thin" x="1410.70" y="1107.50" text-anchor="middle" font-size="39.00">1200</text><text class="thin" x="125.60" y="1067.90" text-anchor="end" font-size="39.00">-0.2</text><text class="thin" x="124.20" y="902.43" text-anchor="end" font-size="39.00">0</text><text class="thin" x="125.80" y="734.12" text-anchor="end" font-size="39.00">0.2</text><text class="thin" x="125.30" y="568.25" text-anchor="end" font-size="39.00">0.4</text><text class="thin" x="125.15" y="402.63" text-anchor="end" font-size="39.00">0.6</text><text class="thin" x="124.85" y="234.72" text-anchor="end" font-size="39.00">0.8</text><text class="thin" x="123.25" y="68.90" text-anchor="end" font-size="39.00">1</text>
<text class="thin" x="778.65" y="1164.30" text-anchor="middle" font-size="43.30">time(s)</text>
<text class="thin" transform="translate(33.90,552.25) rotate(-90)" text-anchor="middle" font-size="43.40">PPG amplitude (Volts)</text>
<g>
<rect x="286.4" y="176.2" width="261.7" height="104.8" fill="#fff" stroke="#1e1e1e" stroke-width="2.6"/>
<line x1="297.8" y1="203.8" x2="414.8" y2="203.8" stroke="#000" stroke-width="4.2"/>
<line x1="297.2" y1="253.2" x2="415.5" y2="253.2" stroke="#0000ff" stroke-width="4.2" stroke-dasharray="18.5,18.5"/>
<text class="thin" x="422.80" y="219.50" text-anchor="start" font-size="35.00">Control</text>
<text class="thin" x="422.75" y="264.50" text-anchor="start" font-size="35.00">SSc</text>
</g>
</svg>
</body></html>
